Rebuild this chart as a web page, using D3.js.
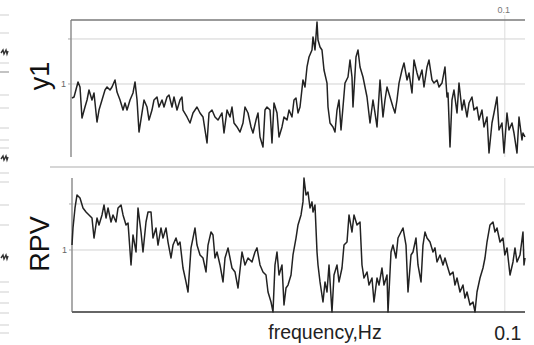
<!DOCTYPE html>
<html><head><meta charset="utf-8">
<script src="https://cdn.jsdelivr.net/npm/d3@7"></script>
<style>body{margin:0;background:#fff}svg{display:block}</style>
</head><body>
<svg id="c" width="534" height="345"></svg>
<script>
// ---- data ----
const panelNames = ["y1", "RPV"];
const xLabel = "frequency,Hz";
const xTickValues = [0.1];
const xTickLabels = ["0.1"];
const yTickValues = [1, 10];
const yTickLabels = ["1", ""];

const freqY1 = [0.002000,0.002037,0.002112,0.002150,0.002189,0.002249,0.002291,0.002332,0.002396,0.002440,0.002507,0.002553,0.002623,0.002695,0.002745,0.002820,0.002871,0.002950,0.003004,0.003087,0.003172,0.003229,0.003289,0.003379,0.003471,0.003535,0.003600,0.003665,0.003765,0.003834,0.003940,0.004012,0.004121,0.004196,0.004312,0.004391,0.004511,0.004594,0.004720,0.004806,0.004938,0.005028,0.005167,0.005309,0.005405,0.005454,0.005656,0.005811,0.005970,0.006190,0.006361,0.006535,0.006777,0.006900,0.007088,0.007283,0.007484,0.007759,0.007901,0.008119,0.008343,0.008493,0.008648,0.008887,0.009132,0.009381,0.009552,0.009816,0.010086,0.010268,0.010551,0.010744,0.010940,0.011239,0.011444,0.011655,0.011976,0.012191,0.012414,0.012757,0.012990,0.013345,0.013589,0.013964,0.014219,0.014607,0.014874,0.015146,0.015424,0.015705,0.016133,0.016428,0.016730,0.017035,0.017501,0.017660,0.017982,0.018313,0.018479,0.018817,0.019156,0.019506,0.020045,0.020227,0.020596,0.021159,0.021545,0.021941,0.022341,0.022750,0.023160,0.023582,0.024234,0.024677,0.025123,0.025352,0.026050,0.026527,0.027012,0.027749,0.028775,0.029567,0.030374,0.030928,0.031497,0.032364,0.033247,0.033853,0.034476,0.035425,0.036392,0.037056,0.037737,0.038426,0.039475,0.040197,0.041307,0.042061,0.043209,0.044000,0.045214,0.046039,0.047296,0.048162,0.049491,0.050394,0.051769,0.052716,0.054171,0.055160,0.056666,0.058224,0.059295,0.059834,0.060927,0.062026,0.063161,0.064904,0.066089,0.067892,0.069134,0.071042,0.072339,0.074314,0.075674,0.077762,0.079182,0.081343,0.082831,0.085117,0.086671,0.089037,0.090666,0.093168,0.094869,0.097458,0.099241,0.10198,0.10384,0.10668,0.10863,0.11163,0.11367,0.11677,0.11783,0.1200];
const valY1 = [0.488,0.514,1.11,0.858,0.176,0.308,0.441,0.736,0.441,0.631,0.143,0.264,0.441,0.736,0.858,0.736,0.858,1.23,0.664,0.441,0.264,0.378,0.264,0.441,0.631,1.11,0.441,0.0858,0.227,0.441,0.308,0.158,0.264,0.441,0.514,0.308,0.441,0.308,0.514,0.569,0.308,0.514,0.264,0.441,0.514,0.264,0.185,0.136,0.227,0.308,0.227,0.185,0.0489,0.227,0.264,0.185,0.158,0.227,0.0815,0.264,0.185,0.308,0.136,0.111,0.0858,0.136,0.308,0.227,0.111,0.0815,0.158,0.227,0.0664,0.0398,0.264,0.308,0.264,0.0489,0.378,0.227,0.0664,0.111,0.185,0.158,0.264,0.185,0.441,0.488,0.227,0.308,1.23,0.858,2.39,3.98,5.70,11.1,5.70,23.9,9.5,6.64,5.70,2.05,1.05,0.308,0.136,0.111,0.0858,0.264,0.441,0.0950,0.308,1.05,1.43,3.41,1.43,0.308,3.98,5.70,2.39,1.43,0.514,0.136,0.441,0.227,0.111,1.23,0.185,0.441,0.858,0.514,0.308,0.227,0.441,1.05,2.05,2.93,1.23,1.76,0.631,3.41,1.76,1.23,2.05,0.858,2.39,3.41,1.23,1.05,1.23,0.858,1.05,2.39,0.514,0.631,0.0398,0.441,0.736,0.227,1.05,0.264,0.441,0.185,0.378,0.514,0.264,0.308,0.158,0.264,0.111,0.185,0.0293,0.136,0.227,0.514,0.0950,0.136,0.0293,0.227,0.0950,0.136,0.0815,0.0293,0.185,0.0570,0.0815,0.0664];

const freqRPV = [0.002000,0.002018,0.002055,0.002093,0.002150,0.002209,0.002270,0.002332,0.002396,0.002440,0.002507,0.002553,0.002623,0.002671,0.002720,0.002770,0.002846,0.002897,0.002977,0.003032,0.003115,0.003172,0.003259,0.003319,0.003410,0.003471,0.003567,0.003632,0.003732,0.003799,0.003904,0.003976,0.004085,0.004158,0.004273,0.004351,0.004471,0.004552,0.004677,0.004763,0.004894,0.004983,0.005120,0.005214,0.005309,0.005454,0.005604,0.005707,0.005864,0.005970,0.006079,0.006190,0.006361,0.006535,0.006715,0.006838,0.007026,0.007153,0.007283,0.007417,0.007621,0.007830,0.007973,0.008193,0.008493,0.008727,0.008968,0.009296,0.009552,0.009816,0.010175,0.010455,0.010647,0.010940,0.011239,0.011549,0.011761,0.012085,0.012302,0.012526,0.012757,0.012990,0.013345,0.013589,0.013838,0.014091,0.014479,0.014740,0.015146,0.015424,0.015849,0.016133,0.016281,0.016578,0.016882,0.017190,0.017501,0.017660,0.017982,0.018313,0.018479,0.018817,0.019330,0.019683,0.020045,0.020411,0.020968,0.021352,0.021941,0.022341,0.022951,0.023371,0.024016,0.024454,0.025123,0.025583,0.026289,0.027012,0.027499,0.028002,0.028775,0.029300,0.030100,0.030651,0.031497,0.032073,0.032947,0.033550,0.034476,0.034789,0.035747,0.036392,0.037395,0.038080,0.039129,0.039834,0.040931,0.041680,0.042830,0.043602,0.044803,0.045624,0.046882,0.047726,0.048597,0.049491,0.050853,0.052240,0.053193,0.054171,0.055662,0.057182,0.058224,0.059295,0.060927,0.062590,0.063732,0.064904,0.066690,0.068510,0.069759,0.071042,0.072998,0.074990,0.076358,0.077762,0.079903,0.082083,0.083580,0.085117,0.087460,0.089847,0.091485,0.093168,0.095732,0.098345,0.1000,0.10198,0.10479,0.10765,0.10961,0.11163,0.11470,0.11783,0.11891,0.1200];
const valRPV = [1.28,3.01,8.19,15.7,13.5,8.19,6.70,5.77,4.96,1.82,4.96,3.50,5.77,9.51,4.96,8.19,4.06,5.77,4.06,8.19,9.51,5.77,3.50,3.86,0.472,2.12,0.905,8.19,2.46,0.905,4.06,6.70,6.70,1.82,3.01,1.28,3.01,1.82,3.01,1.49,0.670,1.28,1.82,1.28,1.49,0.406,0.202,0.122,1.11,1.82,3.01,1.28,0.779,0.670,0.333,1.28,2.46,2.12,0.670,0.905,0.472,0.202,0.670,1.11,0.406,0.333,0.149,0.905,0.472,0.670,0.549,0.905,1.11,0.472,0.333,0.286,0.122,0.0741,0.0450,0.472,0.905,0.286,0.472,0.0637,0.149,0.173,0.286,0.779,1.82,3.50,5.77,11.1,36.7,15.7,18.2,8.19,11.1,6.70,9.51,0.905,0.472,0.202,0.0741,0.202,0.122,0.472,0.0450,0.286,0.472,0.202,0.406,1.28,1.49,5.77,2.46,5.77,3.50,4.06,0.472,0.246,0.333,0.173,0.246,0.0741,0.246,0.173,0.406,0.173,0.286,0.0450,0.905,1.28,0.670,1.82,2.46,3.01,1.28,0.122,0.779,0.905,1.82,0.472,0.202,1.28,2.46,1.82,1.49,0.905,1.11,0.549,0.779,0.472,0.670,0.472,0.286,0.333,0.173,0.246,0.122,0.173,0.0902,0.122,0.0637,0.0741,0.0450,0.122,0.246,0.406,0.670,1.49,3.50,4.06,2.46,3.01,1.49,1.82,0.779,1.11,0.286,0.549,1.11,0.549,0.779,2.46,0.472,0.670];

// ---- drawing ----
const svg = d3.select("#c");
svg.append("rect").attr("width", 534).attr("height", 345).attr("fill", "#fff");

// faint fragments of a neighbouring panel at the left edge
const edge = svg.append("g");
[15,33,63,95,108,128,140,148,173,182,205,225,282,292,303,313,325,333].forEach(y =>
  edge.append("line").attr("x1", 0).attr("x2", 9).attr("y1", y).attr("y2", y)
      .attr("stroke", "#d8d8d8").attr("stroke-width", 1.2));
[72].forEach(y => edge.append("line").attr("x1", 0).attr("x2", 9).attr("y1", y).attr("y2", y)
      .attr("stroke", "#9a9a9a").attr("stroke-width", 1.2));
[52,158,257].forEach(y => edge.append("path")
      .attr("d", `M1,${y+1}L3,${y-2}L4,${y+2}L6,${y-2}L7,${y+2}L8,${y-1}`)
      .attr("fill", "none").attr("stroke", "#333").attr("stroke-width", 1.4));

const x = d3.scaleLog().domain([0.002, 0.12]).range([72, 525]);

const panels = [
  {name: panelNames[0], f: freqY1, v: valY1, dom: [0.0239, 26.4], rng: [157, 20], axisX: 71, labelY: 76, top: true},
  {name: panelNames[1], f: freqRPV, v: valRPV, dom: [0.0449, 36.7], rng: [312, 178], axisX: 72, labelY: 244, top: false}
];

// separator between panels
svg.append("line").attr("x1", 50).attr("x2", 534).attr("y1", 167).attr("y2", 167)
  .attr("stroke", "#d6d6d6").attr("stroke-width", 2);

panels.forEach(p => {
  const y = d3.scaleLog().domain(p.dom).range(p.rng);
  const g = svg.append("g");
  yTickValues.forEach((t, i) => {
    g.append("line").attr("x1", p.axisX).attr("x2", 525).attr("y1", y(t)).attr("y2", y(t))
      .attr("stroke", "#d2d2d2").attr("stroke-width", 1);
    g.append("line").attr("x1", p.axisX - 3).attr("x2", p.axisX).attr("y1", y(t)).attr("y2", y(t))
      .attr("stroke", "#aaa").attr("stroke-width", 1);
    if (yTickLabels[i]) g.append("text").attr("x", p.axisX - 5).attr("y", y(t) + 3)
      .attr("text-anchor", "end").attr("font-family", "Liberation Sans, Arial, sans-serif")
      .attr("font-size", 9).attr("fill", "#666").text(yTickLabels[i]);
  });
  xTickValues.forEach(t => {
    g.append("line").attr("x1", x(t)).attr("x2", x(t))
      .attr("y1", p.top ? 15 : p.rng[1]).attr("y2", p.rng[0])
      .attr("stroke", "#dcdcdc").attr("stroke-width", 1);
  });
  g.append("line").attr("x1", p.axisX).attr("x2", p.axisX).attr("y1", p.rng[1]).attr("y2", p.rng[0])
    .attr("stroke", "#8f8f8f").attr("stroke-width", 1.5);
  if (p.top) {
    g.append("line").attr("x1", p.axisX).attr("x2", 525).attr("y1", 20).attr("y2", 20)
      .attr("stroke", "#7a7a7a").attr("stroke-width", 1.5);
    xTickValues.forEach((t, i) => g.append("text").attr("x", x(t) - 1).attr("y", 13)
      .attr("text-anchor", "middle").attr("font-family", "Liberation Sans, Arial, sans-serif")
      .attr("font-size", 9).attr("fill", "#777").text(xTickLabels[i]));
  } else {
    g.append("line").attr("x1", p.axisX).attr("x2", 525).attr("y1", p.rng[0]).attr("y2", p.rng[0])
      .attr("stroke", "#666").attr("stroke-width", 2);
    xTickValues.forEach((t, i) => g.append("text").attr("x", x(t) + 3).attr("y", 340)
      .attr("text-anchor", "middle").attr("font-family", "Liberation Sans, Arial, sans-serif")
      .attr("font-size", 19.5).attr("fill", "#222").text(xTickLabels[i]));
    g.append("text").attr("x", 325).attr("y", 339).attr("text-anchor", "middle")
      .attr("font-family", "Liberation Sans, Arial, sans-serif").attr("font-size", 19.5)
      .attr("fill", "#222").text(xLabel);
  }
  const pts = p.f.map((f, i) => [f, p.v[i]]);
  g.append("path").datum(pts)
    .attr("d", d3.line().x(d => x(d[0])).y(d => y(d[1])))
    .attr("fill", "none").attr("stroke", "#222").attr("stroke-width", 1.5)
    .attr("stroke-linejoin", "round");
  g.append("text").attr("transform", `translate(49,${p.labelY}) rotate(-90)`)
    .attr("text-anchor", "middle").attr("font-family", "Liberation Sans, Arial, sans-serif")
    .attr("font-size", 27).attr("fill", "#111").text(p.name);
});
</script>
</body></html>
